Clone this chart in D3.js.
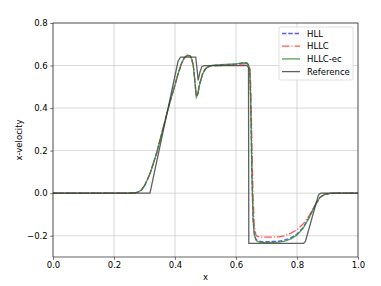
<!DOCTYPE html>
<html>
<head>
<meta charset="utf-8">
<script src="https://d3js.org/d3.v7.min.js"></script>
<style>
  body { margin: 0; background: #fff; }
  text { font-family: "DejaVu Sans", sans-serif; }
</style>
</head>
<body>
<svg id="chart" width="381" height="286"></svg>
<script>
// values
let xTicks = [0.0, 0.2, 0.4, 0.6, 0.8, 1.0];
let yTicks = [-0.2, 0.0, 0.2, 0.4, 0.6, 0.8];

let xNum = [0, 0.25, 0.27, 0.28, 0.29, 0.30, 0.31, 0.32, 0.34, 0.36, 0.38, 0.40, 0.41, 0.42, 0.43, 0.44, 0.45, 0.455, 0.46, 0.465, 0.47, 0.475, 0.48, 0.49, 0.50, 0.51, 0.52, 0.55, 0.60, 0.62, 0.635, 0.64, 0.645, 0.648, 0.652, 0.656, 0.66, 0.665, 0.67, 0.68, 0.70, 0.74, 0.76, 0.78, 0.80, 0.82, 0.84, 0.86, 0.875, 0.89, 0.91, 0.93, 1.0];

let hll = [0, 0, 0.002, 0.006, 0.015, 0.035, 0.065, 0.10, 0.19, 0.30, 0.41, 0.51, 0.56, 0.605, 0.635, 0.648, 0.645, 0.63, 0.60, 0.53, 0.455, 0.47, 0.51, 0.56, 0.585, 0.595, 0.600, 0.603, 0.607, 0.611, 0.612, 0.605, 0.58, 0.45, 0.10, -0.12, -0.19, -0.215, -0.222, -0.227, -0.228, -0.226, -0.22, -0.21, -0.192, -0.162, -0.113, -0.055, -0.02, -0.006, -0.001, 0, 0];

let hllc = [0, 0, 0.002, 0.006, 0.015, 0.035, 0.065, 0.10, 0.19, 0.30, 0.41, 0.51, 0.56, 0.605, 0.635, 0.647, 0.644, 0.63, 0.60, 0.53, 0.455, 0.47, 0.51, 0.56, 0.585, 0.594, 0.598, 0.600, 0.604, 0.607, 0.608, 0.605, 0.59, 0.52, 0.25, -0.02, -0.15, -0.195, -0.203, -0.206, -0.207, -0.205, -0.200, -0.188, -0.172, -0.145, -0.105, -0.055, -0.022, -0.007, -0.001, 0, 0];

let hllcEc = [0, 0, 0.002, 0.006, 0.015, 0.035, 0.065, 0.10, 0.19, 0.30, 0.41, 0.51, 0.56, 0.605, 0.636, 0.649, 0.646, 0.63, 0.60, 0.53, 0.45, 0.465, 0.505, 0.558, 0.585, 0.596, 0.601, 0.604, 0.608, 0.612, 0.613, 0.606, 0.58, 0.45, 0.10, -0.13, -0.195, -0.22, -0.227, -0.231, -0.232, -0.23, -0.225, -0.215, -0.197, -0.165, -0.115, -0.055, -0.02, -0.006, -0.001, 0, 0];

let xRef = [0, 0.318, 0.41, 0.418, 0.468, 0.471, 0.476, 0.482, 0.488, 0.495, 0.636, 0.641, 0.642, 0.822, 0.828, 0.87, 0.875, 0.88, 1.0];
let reference = [0, 0, 0.62, 0.64, 0.64, 0.60, 0.53, 0.57, 0.595, 0.60, 0.60, 0.59, -0.236, -0.236, -0.225, -0.01, -0.002, 0, 0];

let seriesNames = ["HLL", "HLLC", "HLLC-ec", "Reference"];

let svg = d3.select("#chart");
let margin = {top: 23, right: 23, bottom: 29, left: 53};
let width = 381, height = 286;

let x = d3.scaleLinear().domain([0, 1]).range([margin.left, width - margin.right]);
let y = d3.scaleLinear().domain([-0.3, 0.8]).range([height - margin.bottom, margin.top]);

// grid
svg.append("g").selectAll("line").data(xTicks).join("line")
    .attr("x1", d => x(d)).attr("x2", d => x(d))
    .attr("y1", y(-0.3)).attr("y2", y(0.8))
    .attr("stroke", "#b0b0b0").attr("stroke-width", 0.6).attr("opacity", 0.8);
svg.append("g").selectAll("line").data(yTicks).join("line")
    .attr("y1", d => y(d)).attr("y2", d => y(d))
    .attr("x1", x(0)).attr("x2", x(1))
    .attr("stroke", "#b0b0b0").attr("stroke-width", 0.6).attr("opacity", 0.8);

let fmt = d => d3.format(".1f")(d).replace("-", "\u2212");

let xAxis = svg.append("g")
    .attr("transform", `translate(0,${y(-0.3)})`)
    .call(d3.axisBottom(x).tickValues(xTicks).tickFormat(fmt).tickSize(2.8).tickPadding(2.5));
let yAxis = svg.append("g")
    .attr("transform", `translate(${x(0)},0)`)
    .call(d3.axisLeft(y).tickValues(yTicks).tickFormat(fmt).tickSize(2.8).tickPadding(2.5));
[xAxis, yAxis].forEach(a => {
    a.select(".domain").remove();
    a.selectAll("line").attr("stroke", "#222").attr("stroke-width", 0.6);
    a.selectAll("text").attr("font-size", 8.5).attr("fill", "#000")
        .attr("font-family", "DejaVu Sans, sans-serif");
});

// lines
let line = d3.line().x(d => x(d[0])).y(d => y(d[1]));
let toPts = (xs, vs) => xs.map((v, i) => [v, vs[i]]);

let styles = [
    {name: "HLL", pts: toPts(xNum, hll), color: "#2f2fff", dash: "4.4,1.9"},
    {name: "HLLC", pts: toPts(xNum, hllc), color: "#ff3030", dash: "7.6,1.9,1.2,1.9"},
    {name: "HLLC-ec", pts: toPts(xNum, hllcEc), color: "#2a8a2a", dash: null},
    {name: "Reference", pts: toPts(xRef, reference), color: "#3a3a3a", dash: null}
];

let plot = svg.append("g");
styles.forEach(s => {
    plot.append("path")
        .attr("d", line(s.pts))
        .attr("fill", "none")
        .attr("stroke", s.color)
        .attr("stroke-opacity", 0.8)
        .attr("stroke-width", 1.3)
        .attr("stroke-dasharray", s.dash);
});

// spines
svg.append("rect")
    .attr("x", x(0)).attr("y", y(0.8))
    .attr("width", x(1) - x(0)).attr("height", y(-0.3) - y(0.8))
    .attr("fill", "none").attr("stroke", "#222").attr("stroke-width", 0.7);

// axis labels
svg.append("text").attr("x", (x(0) + x(1)) / 2).attr("y", 280)
    .attr("text-anchor", "middle").attr("font-size", 8.5).text("x");
svg.append("text")
    .attr("transform", `translate(22,${(y(-0.3) + y(0.8)) / 2}) rotate(-90)`)
    .attr("text-anchor", "middle").attr("font-size", 8.5).text("x-velocity");

// legend
let lg = svg.append("g").attr("transform", "translate(279,27)");
lg.append("rect").attr("width", 74).attr("height", 53).attr("rx", 1.5)
    .attr("fill", "#fff").attr("fill-opacity", 0.8)
    .attr("stroke", "#ccc").attr("stroke-width", 0.6);
styles.forEach((s, i) => {
    let yy = 6.5 + i * 12.7;
    lg.append("line").attr("x1", 3).attr("x2", 21).attr("y1", yy).attr("y2", yy)
        .attr("stroke", s.color).attr("stroke-opacity", 0.8)
        .attr("stroke-width", 1.3).attr("stroke-dasharray", s.dash);
    lg.append("text").attr("x", 28).attr("y", yy + 3).attr("font-size", 8.5).text(s.name);
});
</script>
</body>
</html>
